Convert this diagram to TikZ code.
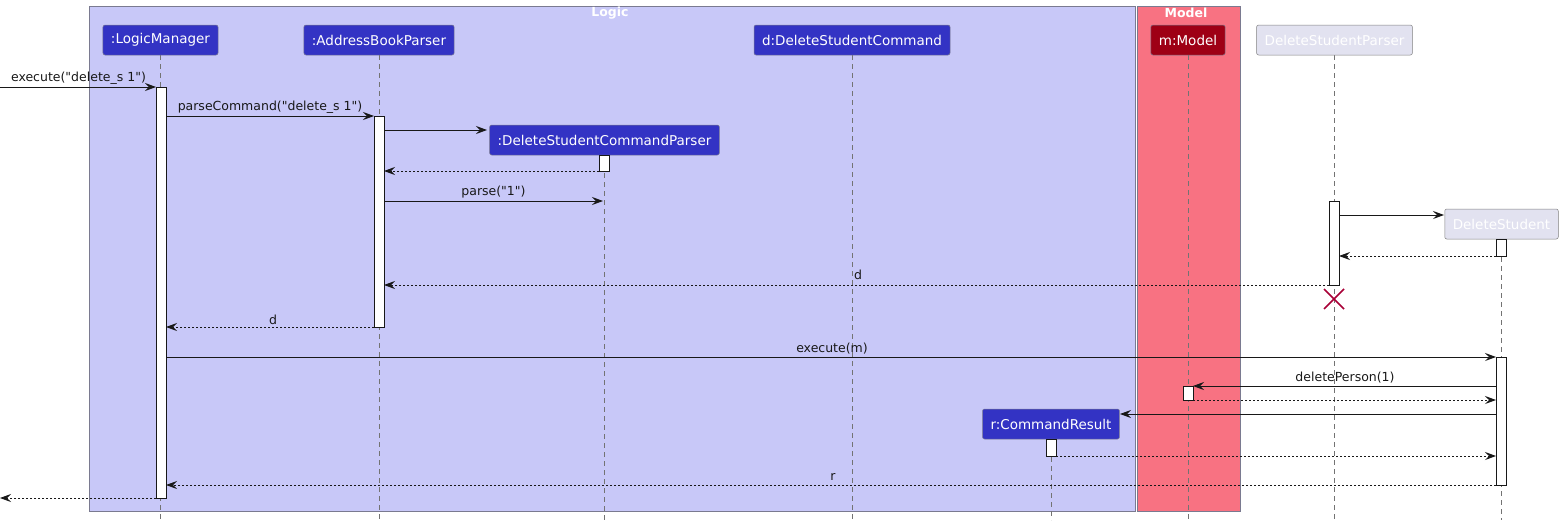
\documentclass[tikz,border=0pt]{standalone}
\usepackage{fontspec}
\setmainfont{DejaVu Sans}[Ligatures=TeXOff]
\usetikzlibrary{arrows.meta}
\definecolor{logicbg}{HTML}{C8C8F8}
\definecolor{modelbg}{HTML}{F87282}
\definecolor{partblue}{HTML}{3333C4}
\definecolor{partred}{HTML}{9E0015}
\definecolor{partgray}{HTML}{E2E2F0}
\definecolor{boxline}{HTML}{7A7A90}
\definecolor{xred}{HTML}{A80036}
\definecolor{ink}{HTML}{181818}
\tikzset{
  grp/.style={draw=boxline, line width=0.7pt},
  grptitle/.style={text=white, font=\fontsize{12.5}{14}\selectfont\bfseries, inner sep=0pt},
  part/.style={draw=boxline, rounded corners=2pt, text=white, minimum height=30pt, inner xsep=8pt, inner ysep=0pt, font=\fontsize{13.5}{15}\selectfont, line width=0.5pt},
  pblue/.style={part, fill=partblue},
  pred/.style={part, fill=partred},
  pgray/.style={part, fill=partgray, draw=gray},
  life/.style={draw=gray!90!black, dash pattern=on 5pt off 4pt, line width=0.6pt},
  act/.style={draw=ink, fill=white, line width=0.8pt},
  msg/.style={draw=ink, line width=0.8pt, -{Stealth[length=11pt,width=8pt,inset=4pt]}},
  ret/.style={msg, dash pattern=on 2pt off 2pt},
  lbl/.style={font=\fontsize{12.5}{14}\selectfont, text=ink, inner sep=0pt, anchor=base}
}
\begin{document}
\begin{tikzpicture}[x=1pt,y=-1pt]
\useasboundingbox (0,0) rectangle (1564,523);
% groups
\node[grp, fill=logicbg, minimum width=1046pt, minimum height=505pt, anchor=north west, inner sep=0pt] (logic) at (89,6) {};
\node[grptitle] (logict) at (610,13) {Logic};
\node[grp, fill=modelbg, minimum width=103pt, minimum height=505pt, anchor=north west, inner sep=0pt] (model) at (1137,6) {};
\node[grptitle] (modelt) at (1186,13) {Model};
% lifelines
\draw[life] (160,55) -- (160,520);
\draw[life] (379,55) -- (379,520);
\draw[life] (604,155) -- (604,520);
\draw[life] (852,55) -- (852,520);
\draw[life] (1188,55) -- (1188,520);
\draw[life] (1051,439) -- (1051,520);
\draw[life] (1334,55) -- (1334,520);
\draw[life] (1501,239) -- (1501,520);
% participants
\node[pblue] (lm) at (160.5,40) {:LogicManager};
\node[pblue] (abp) at (379,40) {:AddressBookParser};
\node[pblue] (dsc) at (852,40) {d:DeleteStudentCommand};
\node[pred] (mm) at (1188,40) {m:Model};
\node[pgray] (dsp) at (1334.5,40) {DeleteStudentParser};
\node[pblue] (dscp) at (604.5,140) {:DeleteStudentCommandParser};
\node[pgray] (ds) at (1501.5,224) {DeleteStudent};
\node[pblue] (cr) at (1051,424) {r:CommandResult};
% activations
\node[act, minimum width=10pt, minimum height=411pt, inner sep=0pt, anchor=north] (alm) at (161,87) {};
\node[act, minimum width=10pt, minimum height=211pt, inner sep=0pt, anchor=north] (aabp) at (379,116) {};
\node[act, minimum width=10pt, minimum height=16pt, inner sep=0pt, anchor=north] (adscp) at (604,155) {};
\node[act, minimum width=10pt, minimum height=84pt, inner sep=0pt, anchor=north] (adsp) at (1334,201) {};
\node[act, minimum width=10pt, minimum height=17pt, inner sep=0pt, anchor=north] (ads1) at (1501,239) {};
\node[act, minimum width=10pt, minimum height=128pt, inner sep=0pt, anchor=north] (ads2) at (1501,357) {};
\node[act, minimum width=10pt, minimum height=14pt, inner sep=0pt, anchor=north] (amm) at (1188,386) {};
\node[act, minimum width=10pt, minimum height=17pt, inner sep=0pt, anchor=north] (acr) at (1051,439) {};
% endpoints
\coordinate (in1) at (0,87);
\coordinate (lm1) at (156,87);
\coordinate (lm2) at (166,116);
\coordinate (ab2) at (374,116);
\coordinate (ab3) at (384,130);
\coordinate (dscp3) at (487,130);
\coordinate (dscp4) at (599,171);
\coordinate (ab4) at (384,171);
\coordinate (ab5) at (384,201);
\coordinate (dscp5) at (603,201);
\coordinate (dsp6) at (1339,215);
\coordinate (ds6) at (1444,215);
\coordinate (ds7) at (1496,256);
\coordinate (dsp7) at (1339,256);
\coordinate (dsp8) at (1329,285);
\coordinate (ab8) at (384,285);
\coordinate (ab10) at (374,327);
\coordinate (lm10) at (166,327);
\coordinate (lm11) at (166,357);
\coordinate (ds11) at (1496,357);
\coordinate (ds12) at (1496,386);
\coordinate (mm12) at (1193,386);
\coordinate (mm13) at (1193,400);
\coordinate (ds13) at (1496,400);
\coordinate (ds14) at (1496,414);
\coordinate (cr14) at (1120,414);
\coordinate (cr15) at (1056,456);
\coordinate (ds15) at (1496,456);
\coordinate (ds16) at (1496,485);
\coordinate (lm16) at (166,485);
\coordinate (lm17) at (156,498);
\coordinate (out17) at (0,498);
% messages
\draw[msg] (in1) -- (lm1);
\node[lbl] (l1) at (78.5,81) {execute("delete\_s 1")};
\draw[msg] (lm2) -- (ab2);
\node[lbl] (l2) at (270,110) {parseCommand("delete\_s 1")};
\draw[msg] (ab3) -- (dscp3);
\draw[ret] (dscp4) -- (ab4);
\draw[msg] (ab5) -- (dscp5);
\node[lbl] (l5) at (493.5,195) {parse("1")};
\draw[msg] (dsp6) -- (ds6);
\draw[ret] (ds7) -- (dsp7);
\draw[ret] (dsp8) -- (ab8);
\node[lbl] (l8) at (858,279) {d};
\draw[ret] (ab10) -- (lm10);
\node[lbl] (l10) at (273,324) {d};
\draw[msg] (lm11) -- (ds11);
\node[lbl] (l11) at (832,352) {execute(m)};
\draw[msg] (ds12) -- (mm12);
\node[lbl] (l12) at (1345,381) {deletePerson(1)};
\draw[ret] (mm13) -- (ds13);
\draw[msg] (ds14) -- (cr14);
\draw[ret] (cr15) -- (ds15);
\draw[ret] (ds16) -- (lm16);
\node[lbl] (l16) at (833,480) {r};
\draw[ret] (lm17) -- (out17);
% destroy
\draw[xred, line width=1.5pt] (1324,289) -- (1344,309) (1324,309) -- (1344,289);
\end{tikzpicture}
\end{document}
